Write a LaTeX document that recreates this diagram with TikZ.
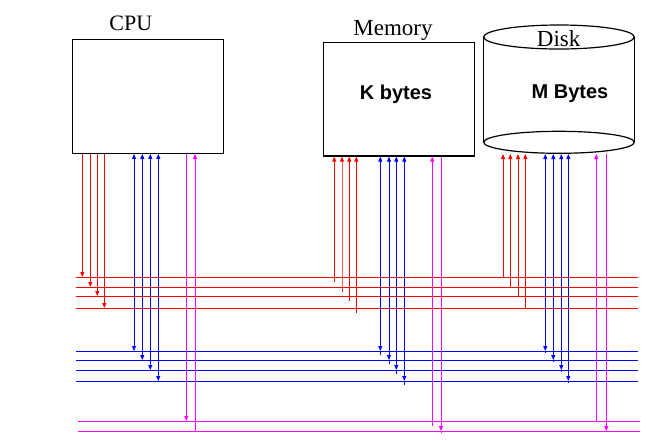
\documentclass[tikz,border=0pt]{standalone}
\usepackage{fontspec}
\setmainfont{Liberation Serif}
\setsansfont{Liberation Sans}
\usetikzlibrary{arrows.meta}
\definecolor{busred}{RGB}{255,0,0}
\definecolor{busblue}{RGB}{0,0,255}
\definecolor{busmag}{RGB}{255,0,255}
\begin{document}
\begin{tikzpicture}[x=1pt,y=-1pt,
  >={Triangle[length=5pt,width=4pt]},
  redl/.style={busred,line width=0.9pt},
  bluel/.style={busblue,line width=0.9pt},
  magl/.style={busmag,line width=0.9pt},
  box/.style={draw,line width=1.2pt,inner sep=0pt},
  serlabel/.style={anchor=base,inner sep=0pt},
  sanslabel/.style={anchor=base,inner sep=0pt,font=\sffamily\bfseries\fontsize{20}{22}\selectfont}]
\useasboundingbox (0,0) rectangle (658,440);

% devices
\node[box,minimum width=151pt,minimum height=114pt] (cpu) at (147.8,96.3) {};
\node[box,minimum width=151.4pt,minimum height=113.3pt] (mem) at (399,99.3) {};
\draw[line width=1.2pt] (559,37) ellipse [x radius=75.3pt,y radius=12pt];
\draw[line width=1.2pt] (559,142.3) ellipse [x radius=75.3pt,y radius=11pt];
\draw[line width=1.2pt] (483.7,37) -- (483.7,142.3);
\draw[line width=1.2pt] (634.3,37) -- (634.3,142.3);
\coordinate (disk) at (559,154);

% labels
\node[serlabel,font=\fontsize{22}{24}\selectfont] (cputxt) at (130.8,30.7) {CPU};
\node[serlabel,font=\fontsize{23}{26}\selectfont] (memtxt) at (393,35) {Memory};
\node[serlabel,font=\fontsize{23}{26}\selectfont] (disktxt) at (558.7,46) {Disk};
\node[sanslabel] (kb) at (396,99.3) {K bytes};
\node[sanslabel] (mb) at (570,98.3) {M Bytes};

% buses
\foreach \n/\y in {r1/277,r2/287,r3/296,r4/308} {
  \coordinate (\n) at (76,\y); \coordinate (\n end) at (638,\y);
  \draw[redl] (\n) -- (\n end);}
\foreach \n/\y in {b1/351,b2/360,b3/370,b4/381} {
  \coordinate (\n) at (76,\y); \coordinate (\n end) at (638,\y);
  \draw[bluel] (\n) -- (\n end);}
\foreach \n/\y in {m1/421,m2/431} {
  \coordinate (\n) at (78,\y); \coordinate (\n end) at (640,\y);
  \draw[magl] (\n) -- (\n end);}

% CPU connections
\foreach \x/\b in {82.3/r1,90.3/r2,97.3/r3,104.3/r4}
  \draw[redl,->] (cpu.south -| \x,0) -- (\b -| \x,0);
\foreach \x/\b in {134/b1,142.3/b2,150.3/b3,158.3/b4}
  \draw[bluel,<->] (cpu.south -| \x,0) -- (\b -| \x,0);
\draw[magl,->] (cpu.south -| 186.3,0) -- (m1 -| 186.3,0);
\draw[magl,<-] (cpu.south -| 195,0) -- (m2 -| 195,0);

% Memory connections
\foreach \x/\b in {334.3/r1,342/r2,349.3/r3,356.3/r4}
  \draw[redl,<-] (mem.south -| \x,0) -- (\b -| \x,0) -- ++(0,5);
\foreach \x/\b in {380.3/b1,389/b2,396.3/b3,404.3/b4} {
  \draw[bluel,<->] (mem.south -| \x,0) -- (\b -| \x,0);
  \draw[bluel] (\b -| \x,0) -- ++(0,4);}
\draw[magl,<-] (mem.south -| 432.3,0) -- (m1 -| 432.3,0) -- ++(0,5);
\draw[magl,->] (mem.south -| 441,0) -- (m2 -| 441,0);
\draw[magl] (m2 -| 441,0) -- ++(0,2);

% Disk connections
\foreach \x/\b in {503/r1,510.3/r2,518/r3,525.3/r4}
  \draw[redl,<-] (disk -| \x,0) -- (\b -| \x,0);
\foreach \x/\b in {545.3/b1,553.3/b2,561.3/b3,568.3/b4} {
  \draw[bluel,<->] (disk -| \x,0) -- (\b -| \x,0);
  \draw[bluel] (\b -| \x,0) -- ++(0,2);}
\draw[magl,<-] (disk -| 596.3,0) -- (m1 -| 596.3,0);
\draw[magl,->] (disk -| 606.3,0) -- (m2 -| 606.3,0);
\end{tikzpicture}
\end{document}
